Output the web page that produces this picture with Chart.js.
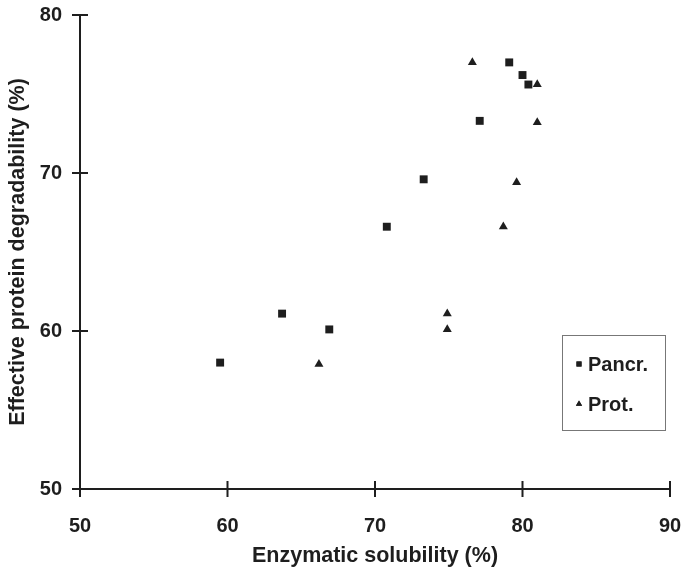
<!DOCTYPE html>
<html>
<head>
<meta charset="utf-8">
<script src="https://cdn.jsdelivr.net/npm/chart.js@4/dist/chart.umd.min.js"></script>
<style>
  html, body { margin: 0; padding: 0; background: #fff; }
  canvas { display: block; }
</style>
</head>
<body>
<canvas id="chart" width="685" height="574"></canvas>
<script>
// data
const pancrX = [59.5, 63.7, 66.9, 70.8, 73.3, 77.1, 79.1, 80.0, 80.4];
const pancrY = [58.0, 61.1, 60.1, 66.6, 69.6, 73.3, 77.0, 76.2, 75.6];
const protX = [66.2, 74.9, 74.9, 78.7, 79.6, 81.0, 81.0, 76.6];
const protY = [57.9, 60.1, 61.1, 66.6, 69.4, 73.2, 75.6, 77.0];
const xTicks = [50, 60, 70, 80, 90];
const yTicks = [50, 60, 70, 80];
const seriesNames = ['Pancr.', 'Prot.'];

const ink = '#1e1e1e';
const font = 'Liberation Sans, Arial, sans-serif';

const toPoints = (xs, ys) => xs.map((x, i) => ({ x: x, y: ys[i] }));

// no extra room for half-labels, layout padding does that job
function noEdgePadding(s) {
    s.paddingTop = 0; s.paddingBottom = 0;
    s.paddingLeft = 0; s.paddingRight = 0;
}

// ticks that cross the axis line on both sides
const crossTicks = {
    id: 'crossTicks',
    afterDraw(chart) {
        const { ctx, scales: { x, y } } = chart;
        ctx.save();
        ctx.strokeStyle = ink;
        ctx.lineWidth = 2;
        ctx.beginPath();
        x.ticks.forEach(t => {
            const px = x.getPixelForValue(t.value);
            ctx.moveTo(px, y.bottom - 8);
            ctx.lineTo(px, y.bottom + 8);
        });
        y.ticks.forEach(t => {
            const py = y.getPixelForValue(t.value);
            ctx.moveTo(x.left - 8, py);
            ctx.lineTo(x.left + 8, py);
        });
        ctx.stroke();
        ctx.restore();
    }
};

// boxed legend sitting inside the plot, lower right
const boxLegend = {
    id: 'boxLegend',
    afterDraw(chart) {
        const ctx = chart.ctx;
        ctx.save();
        ctx.strokeStyle = '#777';
        ctx.lineWidth = 1;
        ctx.strokeRect(562.5, 335.5, 103, 95);
        ctx.font = 'bold 20px ' + font;
        ctx.textBaseline = 'middle';
        ctx.textAlign = 'left';
        ctx.fillStyle = ink;
        chart.data.datasets.forEach((ds, i) => {
            const cy = 364 + i * 40;
            Chart.helpers.drawPoint(ctx, {
                pointStyle: ds.pointStyle, radius: 3.6, rotation: 0, borderWidth: 0
            }, 579, cy);
            ctx.fillStyle = ink;
            ctx.fill();
            ctx.fillText(ds.label, 588, cy + 1);
        });
        ctx.restore();
    }
};

new Chart(document.getElementById('chart'), {
    type: 'scatter',
    data: {
        datasets: [
            {
                label: seriesNames[0],
                data: toPoints(pancrX, pancrY),
                pointStyle: 'rect',
                pointRadius: 5.6,
                backgroundColor: ink,
                borderColor: ink,
                borderWidth: 0
            },
            {
                label: seriesNames[1],
                data: toPoints(protX, protY),
                pointStyle: 'triangle',
                pointRadius: 5.2,
                backgroundColor: ink,
                borderColor: ink,
                borderWidth: 0
            }
        ]
    },
    options: {
        responsive: false,
        animation: false,
        layout: { padding: { top: 15, right: 15, left: 0, bottom: 0 } },
        scales: {
            x: {
                min: 50, max: 90,
                afterBuildTicks: s => { s.ticks = xTicks.map(v => ({ value: v })); },
                afterFit: s => { s.height = 85; noEdgePadding(s); },
                grid: { display: true, drawOnChartArea: false, drawTicks: false },
                border: { display: true, color: ink, width: 2 },
                ticks: { color: ink, padding: 25, font: { family: font, size: 20, weight: 'bold' } },
                title: {
                    display: true, text: 'Enzymatic solubility (%)', color: ink,
                    font: { family: font, size: 21.5, weight: 'bold' },
                    padding: { top: 0, bottom: 5 }
                }
            },
            y: {
                min: 50, max: 80,
                afterBuildTicks: s => { s.ticks = yTicks.map(v => ({ value: v })); },
                afterFit: s => { s.width = 80; noEdgePadding(s); },
                grid: { display: true, drawOnChartArea: false, drawTicks: false },
                border: { display: true, color: ink, width: 2 },
                ticks: { color: ink, padding: 18, font: { family: font, size: 20, weight: 'bold' } },
                title: {
                    display: true, text: 'Effective protein degradability (%)', color: ink,
                    font: { family: font, size: 21.5, weight: 'bold' },
                    padding: { top: 5, bottom: 0 }
                }
            }
        },
        plugins: {
            legend: { display: false },
            tooltip: { enabled: false }
        }
    },
    plugins: [crossTicks, boxLegend]
});
</script>
</body>
</html>
